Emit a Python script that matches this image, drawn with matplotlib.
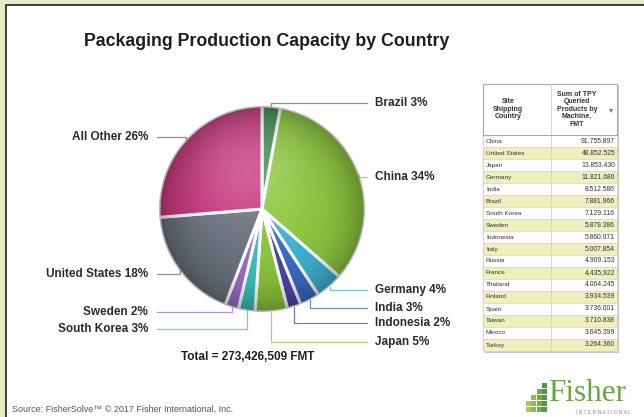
import numpy as np
import matplotlib.pyplot as plt
from matplotlib.patches import Rectangle, Circle

plt.rcParams['font.family'] = ['Liberation Sans', 'DejaVu Sans']

W, H = 644, 417

# pie data (TPY, FMT)
countries = ["Brazil", "China", "Germany", "India", "Indonesia", "Japan",
             "South Korea", "Sweden", "United States", "All Other"]
capacity = [7881966, 91755897, 11821680, 8512586, 5860071, 13853430,
            7129116, 5879386, 48852525, 71879852]
colors = ["#3d8b4c", "#8dc63f", "#3fb3d3", "#3b6cc6", "#4b47a8", "#8cc43c",
          "#39c0bd", "#9a6fc6", "#6a717c", "#c7357c"]

# label placement (pixels from top) and side
label_y = [103, 177, 290, 308, 323, 342, 329, 312, 274, 137]
label_side = ["r", "r", "r", "r", "r", "r", "l", "l", "l", "l"]

# table data
table_countries = ["China", "United States", "Japan", "Germany", "India", "Brazil",
                   "South Korea", "Sweden", "Indonesia", "Italy", "Russia", "France",
                   "Thailand", "Finland", "Spain", "Taiwan", "Mexico", "Turkey"]
table_values = ["91.755.897", "48.852.525", "13.853.430", "11.821.680", "8.512.586",
                "7.881.966", "7.129.116", "5.879.386", "5.860.071", "5.007.854",
                "4.909.153", "4,435,922", "4.064.245", "3.934.539", "3.736.001",
                "3.710.838", "3.645.399", "3.264.360"]

fig = plt.figure(figsize=(W / 100, H / 100), dpi=100)
ax = fig.add_axes([0, 0, 1, 1])


def Y(y):
    return H - y


# frame
ax.add_patch(Rectangle((0, 0), W, H, facecolor="#e4eac6", edgecolor="none", zorder=0))
ax.add_patch(Rectangle((6, 0), W - 6, H - 5, facecolor="white", edgecolor="none", zorder=0))
ax.plot([6, 6, W], [0, Y(5), Y(5)], color="#2e2e2e", lw=1.3, zorder=1,
        solid_joinstyle="miter")

# title
ax.text(267, Y(41), "Packaging Production Capacity by Country", ha="center",
        va="center", fontsize=12.8, fontweight="bold", color="#1e1e1e")

# pie
cx, cy, r = 262, Y(209), 103
wedges, _ = ax.pie(capacity, colors=colors, startangle=90, counterclock=False,
                   center=(cx, cy), radius=r,
                   wedgeprops=dict(edgecolor="white", linewidth=2.2))

# glossy shading over the pie
gx, gy = np.meshgrid(np.linspace(-1, 1, 300), np.linspace(1, -1, 300))
rho = np.sqrt(gx ** 2 + gy ** 2)
shade = np.zeros((300, 300, 4))
shade[..., 3] = np.clip(0.30 * rho ** 4, 0, 0.3)
gloss = np.ones((300, 300, 4))
gloss[..., 3] = 0.22 * np.exp(-((gx + 0.15) ** 2 + (gy - 0.4) ** 2) / 0.3)
for img in (shade, gloss):
    im = ax.imshow(img, extent=(cx - r, cx + r, cy - r, cy + r), zorder=1.5,
                   interpolation="bilinear")
    im.set_clip_path(Circle((cx, cy), r, transform=ax.transData))

total = sum(capacity)
for w, name, val, ly, side, c in zip(wedges, countries, capacity, label_y,
                                     label_side, colors):
    th = np.deg2rad((w.theta1 + w.theta2) / 2)
    px, py = cx + r * np.cos(th), cy + r * np.sin(th)
    end_x = 367 if side == "r" else 157
    ax.plot([px, px, end_x], [py, Y(ly), Y(ly)], color=c, lw=0.9, alpha=0.75,
            zorder=1)
    pct = round(val / total * 100)
    if side == "r":
        ax.text(375, Y(ly), f"{name} {pct}%", ha="left", va="center",
                fontsize=8.5, fontweight="bold", color="#2b2b2b")
    else:
        ax.text(148, Y(ly), f"{name} {pct}%", ha="right", va="center",
                fontsize=8.5, fontweight="bold", color="#2b2b2b")

ax.text(248, Y(357), f"Total = {total:,} FMT", ha="center", va="center",
        fontsize=8.5, fontweight="bold", color="#1e1e1e")

# table
tl, tr, tdiv = 483, 617, 551
ttop, thead, rh = 84, 135, 12
tbot = thead + rh * len(table_countries)
ax.add_patch(Rectangle((tl + 2, Y(tbot + 2)), tr - tl, tbot - ttop,
                       facecolor="#c8c8c8", edgecolor="none", zorder=2))
ax.add_patch(Rectangle((tl, Y(tbot)), tr - tl, tbot - ttop,
                       facecolor="white", edgecolor="#a9a9a9", lw=0.8, zorder=3))
for i, (name, v) in enumerate(zip(table_countries, table_values)):
    top = thead + i * rh
    fc = "#efeebf" if i % 2 == 1 else "white"
    ax.add_patch(Rectangle((tl, Y(top + rh)), tr - tl, rh, facecolor=fc,
                           edgecolor="#d6d6d6", lw=0.5, zorder=3))
    ax.text(tl + 3, Y(top + rh / 2), name, ha="left", va="center",
            fontsize=4.6, color="#333333", zorder=4)
    ax.text(tr - 2, Y(top + rh / 2), v, ha="right", va="center",
            fontsize=4.9, color="#333333", zorder=4)
ax.plot([tdiv, tdiv], [Y(ttop), Y(tbot)], color="#d0d0d0", lw=0.6, zorder=4)
ax.plot([tl, tr], [Y(thead), Y(thead)], color="#a9a9a9", lw=0.8, zorder=4)
ax.text(508, Y(109), "Site\nShipping\nCountry", ha="center", va="center",
        fontsize=5, fontweight="bold", color="#333333", linespacing=1.1, zorder=4)
ax.text(577, Y(109), "Sum of TPY\nQueried\nProducts by\nMachine,\nFMT",
        ha="center", va="center", fontsize=5, fontweight="bold",
        color="#333333", linespacing=1.1, zorder=4)
ax.text(611, Y(110), "▾", ha="center", va="center", fontsize=6,
        color="#777777", family="DejaVu Sans", zorder=4)

# source
ax.text(12, Y(409), "Source: FisherSolve\u2122 \u00a9 2017 Fisher International, Inc.",
        ha="left", va="center", fontsize=6.5, color="#555555")

# logo
greens = ["#a6cf4a", "#8bc040", "#6fae3f", "#4f9a3c"]
heights = [2, 3, 4, 5]
for j, (g, n) in enumerate(zip(greens, heights)):
    for k in range(n):
        ax.add_patch(Rectangle((526 + j * 5.5, Y(412 - k * 6)), 5, 5.2,
                               facecolor=g, edgecolor="none"))
ax.text(548, Y(401), "Fisher", ha="left", va="baseline", fontsize=22.5,
        family="Liberation Serif", color="#6aa642")
ax.text(631, Y(412.5), "I N T E R N A T I O N A L", ha="right", va="center",
        fontsize=3.6, color="#8a8a8a")

ax.set_xlim(0, W)
ax.set_ylim(0, H)
ax.set_aspect("auto")
ax.axis("off")
fig.savefig("out.png", dpi=100)
